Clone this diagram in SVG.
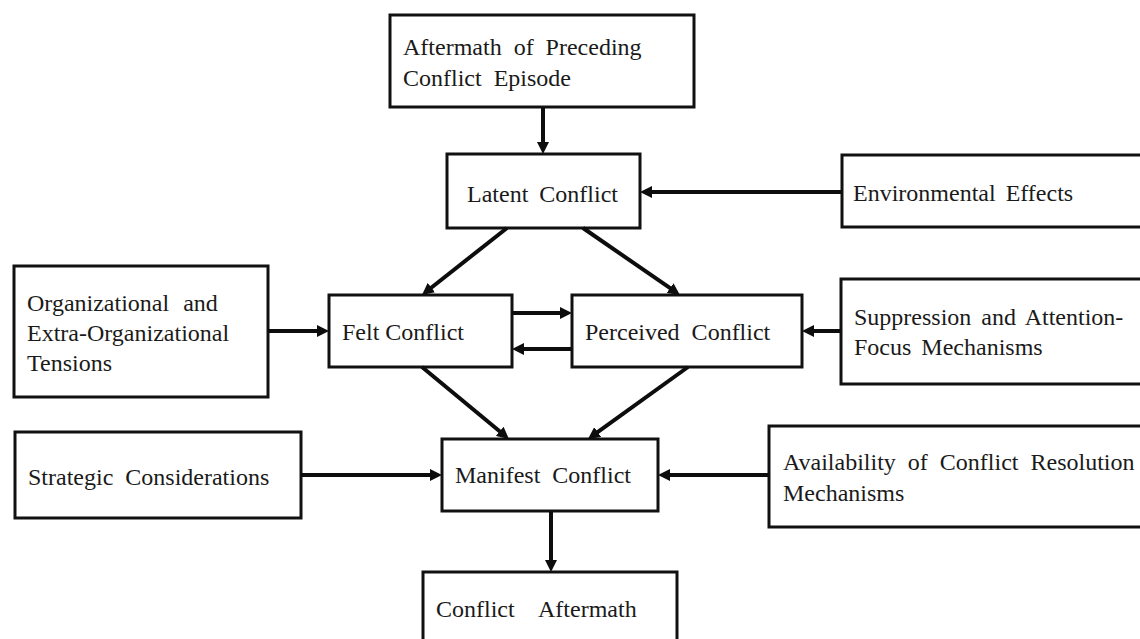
<svg xmlns="http://www.w3.org/2000/svg" width="1140" height="639" viewBox="0 0 1140 639">
  <style>
    .box { fill: #ffffff; stroke: #111111; stroke-width: 3; }
    .lbl { font-family: "Liberation Serif", "Times New Roman", serif; font-size: 24px; fill: #1a1a1a; }
    .edge { fill: none; stroke: #0d0d0d; stroke-width: 4; marker-end: url(#head); }
  </style>
  <defs>
    <marker id="head" viewBox="0 0 12 12" markerWidth="12" markerHeight="12" refX="1" refY="6" orient="auto" markerUnits="userSpaceOnUse">
      <path d="M0,0 L12,6 L0,12 z" fill="#0d0d0d"/>
    </marker>
  </defs>
  <rect width="1140" height="639" fill="#ffffff"/>

  <g id="preceding-aftermath">
    <rect class="box" x="390" y="15" width="304" height="92"/>
    <text class="lbl" x="403" y="55" word-spacing="6">Aftermath of Preceding</text>
    <text class="lbl" x="403" y="86" word-spacing="6">Conflict Episode</text>
  </g>

  <g id="latent">
    <rect class="box" x="447" y="154" width="193" height="74"/>
    <text class="lbl" x="467" y="202" word-spacing="5">Latent Conflict</text>
  </g>

  <g id="environmental">
    <rect class="box" x="842" y="155" width="310" height="72"/>
    <text class="lbl" x="853" y="201" word-spacing="4">Environmental Effects</text>
  </g>

  <g id="tensions">
    <rect class="box" x="14" y="266" width="254" height="131"/>
    <text class="lbl" x="27" y="311" word-spacing="8">Organizational and</text>
    <text class="lbl" x="27" y="341">Extra-Organizational</text>
    <text class="lbl" x="27" y="371">Tensions</text>
  </g>

  <g id="felt">
    <rect class="box" x="329" y="295" width="183" height="72"/>
    <text class="lbl" x="342" y="340">Felt Conflict</text>
  </g>

  <g id="perceived">
    <rect class="box" x="572" y="295" width="230" height="72"/>
    <text class="lbl" x="585" y="340" word-spacing="6">Perceived Conflict</text>
  </g>

  <g id="suppression">
    <rect class="box" x="841" y="279" width="311" height="105"/>
    <text class="lbl" x="854" y="325" word-spacing="4">Suppression and Attention-</text>
    <text class="lbl" x="854" y="355" word-spacing="4">Focus Mechanisms</text>
  </g>

  <g id="strategic">
    <rect class="box" x="15" y="432" width="286" height="86"/>
    <text class="lbl" x="28" y="485" word-spacing="6">Strategic Considerations</text>
  </g>

  <g id="manifest">
    <rect class="box" x="442" y="439" width="216" height="72"/>
    <text class="lbl" x="455" y="483" word-spacing="6">Manifest Conflict</text>
  </g>

  <g id="resolution">
    <rect class="box" x="769" y="426" width="383" height="101"/>
    <text class="lbl" x="783" y="470" word-spacing="6">Availability of Conflict Resolution</text>
    <text class="lbl" x="783" y="501">Mechanisms</text>
  </g>

  <g id="conflict-aftermath">
    <rect class="box" x="423" y="572" width="254" height="80"/>
    <text class="lbl" x="436" y="617">Conflict</text>
    <text class="lbl" x="538" y="617">Aftermath</text>
  </g>

  <g id="connectors">
    <path class="edge" d="M543,107 L543,143"/>
    <path class="edge" d="M842,192 L651,192"/>
    <path class="edge" d="M507,228 L430.6,288.2"/>
    <path class="edge" d="M583,228 L670.9,288.7"/>
    <path class="edge" d="M268,331 L318,331"/>
    <path class="edge" d="M512,313 L561,313"/>
    <path class="edge" d="M572,349 L523,349"/>
    <path class="edge" d="M841,331 L813,331"/>
    <path class="edge" d="M422,367 L500.5,432"/>
    <path class="edge" d="M688,367 L596.9,432.6"/>
    <path class="edge" d="M301,475 L431,475"/>
    <path class="edge" d="M769,475 L669,475"/>
    <path class="edge" d="M551,511 L551,561"/>
  </g>
</svg>
